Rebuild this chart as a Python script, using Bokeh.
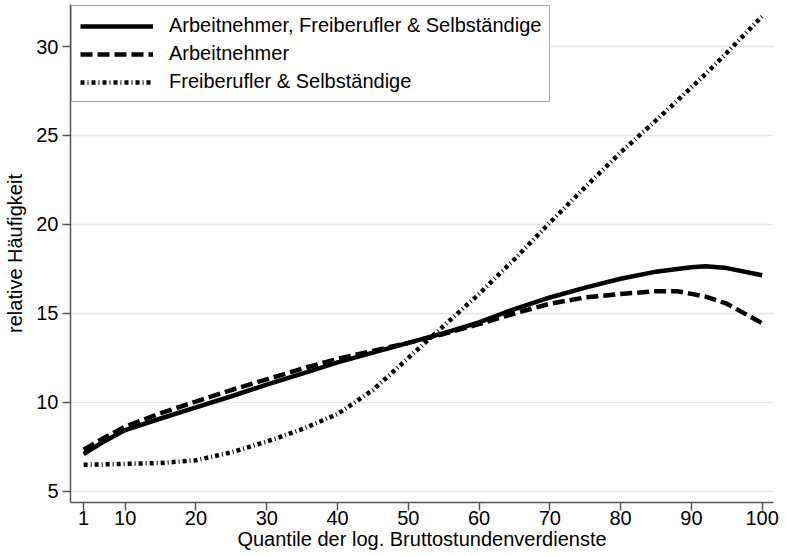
import numpy as np
from bokeh.plotting import figure
from bokeh.models import FixedTicker, Range1d, Legend, LegendItem, ColumnDataSource
from bokeh.embed import file_html
from bokeh.resources import INLINE

# ---- data ----
quantile = [1, 5, 10, 15, 20, 25, 30, 35, 40, 45, 50, 55, 60, 65, 70, 75, 80, 85, 88, 90, 92, 95, 100]
alle = [7.10, 7.75, 8.45, 9.10, 9.72, 10.35, 11.00, 11.62, 12.25, 12.80, 13.35, 13.90, 14.50, 15.25,
        15.90, 16.45, 16.95, 17.35, 17.50, 17.60, 17.65, 17.55, 17.15]
arbeitnehmer = [7.35, 7.95, 8.65, 9.40, 10.05, 10.70, 11.30, 11.90, 12.45, 12.90, 13.35, 13.85, 14.40,
                15.00, 15.55, 15.90, 16.10, 16.25, 16.25, 16.10, 15.95, 15.55, 14.45]
freiberufler = [6.50, 6.52, 6.55, 6.60, 6.75, 7.20, 7.80, 8.50, 9.35, 10.70, 12.50, 14.30, 16.10, 18.05,
                20.10, 22.10, 24.05, 25.85, 26.95, 27.70, 28.45, 29.65, 31.70]
series_labels = ["Arbeitnehmer, Freiberufler & Selbständige", "Arbeitnehmer", "Freiberufler & Selbständige"]
x_tick_values = [1, 10, 20, 30, 40, 50, 60, 70, 80, 90, 100]
y_tick_values = [5, 10, 15, 20, 25, 30]
x_title = "Quantile der log. Bruttostundenverdienste"
y_title = "relative Häufigkeit"

# In the reference the first quantile ("1") sits closer to "10" than a linear
# scale would put it; the axis below 10 is compressed accordingly.
FIRST_POS = 4.13


def axis_pos(q):
    q = np.asarray(q, dtype=float)
    return np.where(q < 10, 10 - (10 - q) * (10 - FIRST_POS) / 9.0, q)


FONT = "Liberation Sans"

p = figure(width=786, height=556, output_backend="svg", toolbar_location=None,
           x_range=Range1d(2.27, 101.6), y_range=Range1d(4.38, 32.36),
           min_border_left=70, min_border_right=13, min_border_top=4, min_border_bottom=54)
p.outline_line_color = None
p.background_fill_color = "white"
p.border_fill_color = "white"

src = ColumnDataSource(dict(x=axis_pos(quantile), a=alle, b=arbeitnehmer, c=freiberufler))
r1 = p.line("x", "a", source=src, line_color="black", line_width=4.5)
r2 = p.line("x", "b", source=src, line_color="black", line_width=4.5, line_dash="12 5")
r3 = p.line("x", "c", source=src, line_color="black", line_width=4.5, line_dash="4 3 1 3")

# axes
tick_pos = [float(v) for v in axis_pos(x_tick_values)]
p.xaxis.ticker = FixedTicker(ticks=tick_pos)
p.xaxis.major_label_overrides = {tp: str(v) for tp, v in zip(tick_pos, x_tick_values)}
p.yaxis.ticker = FixedTicker(ticks=y_tick_values)
p.xaxis.axis_label = x_title
p.yaxis.axis_label = y_title
for ax in (p.xaxis, p.yaxis):
    ax.axis_line_color = "#555555"
    ax.axis_line_width = 1.5
    ax.major_tick_line_color = "#555555"
    ax.major_tick_line_width = 1.5
    ax.major_tick_out = 8
    ax.major_tick_in = 0
    ax.minor_tick_line_color = None
    ax.major_label_text_font = FONT
    ax.major_label_text_font_size = "20px"
    ax.major_label_text_color = "black"
    ax.axis_label_text_font = FONT
    ax.axis_label_text_font_size = "20px"
    ax.axis_label_text_font_style = "normal"
    ax.axis_label_text_color = "black"
p.xaxis.major_label_standoff = 0
p.xaxis.axis_label_standoff = 0
p.yaxis.major_label_standoff = 4
p.yaxis.axis_label_standoff = 7

p.xgrid.grid_line_color = None
p.ygrid.ticker = FixedTicker(ticks=y_tick_values)
p.ygrid.grid_line_color = "#e6e6e6"
p.ygrid.grid_line_width = 1.5

legend = Legend(items=[LegendItem(label=series_labels[0], renderers=[r1]),
                       LegendItem(label=series_labels[1], renderers=[r2]),
                       LegendItem(label=series_labels[2], renderers=[r3])],
                location="top_left")
legend.label_text_font = FONT
legend.label_text_font_size = "20px"
legend.label_text_color = "black"
legend.glyph_width = 73
legend.glyph_height = 20
legend.label_height = 20
legend.label_standoff = 16
legend.spacing = 5
legend.padding = 8
legend.margin = 1
legend.border_line_color = "#555555"
legend.border_line_width = 1.5
legend.background_fill_color = "white"
legend.background_fill_alpha = 1
p.add_layout(legend)

open("out.html", "w").write(file_html(p, INLINE))
